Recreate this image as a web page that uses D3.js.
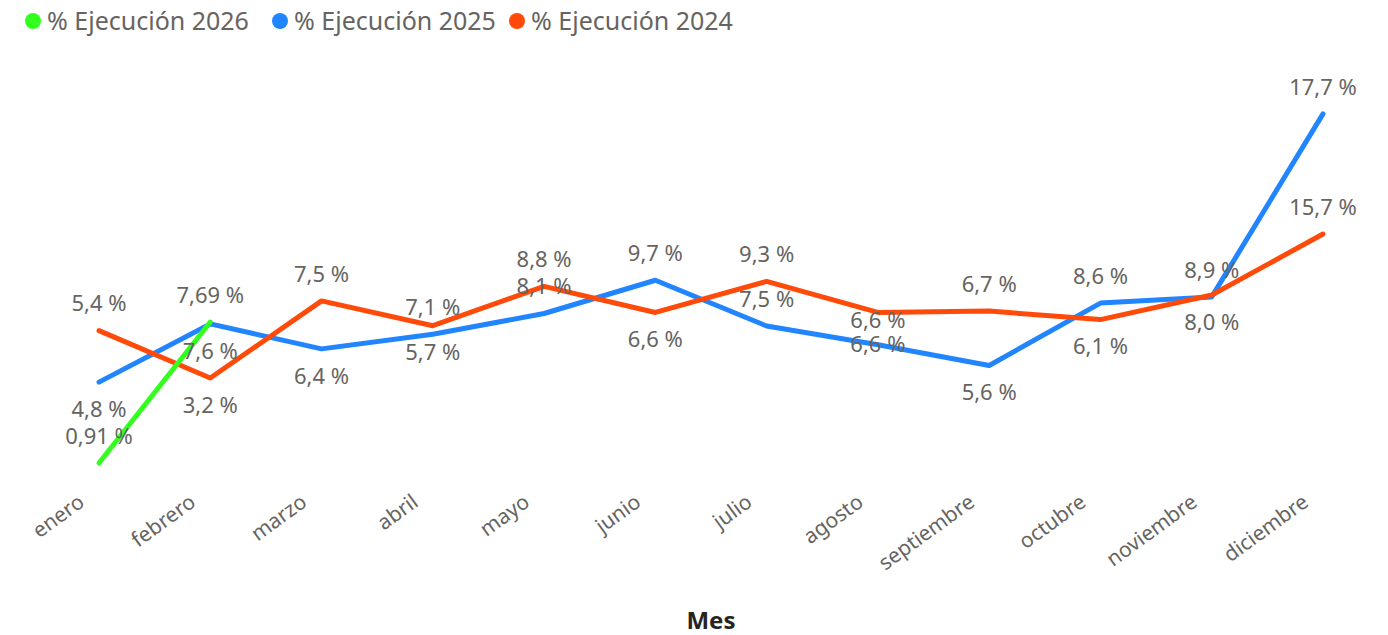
<!DOCTYPE html>
<meta charset="utf-8">
<body style="margin:0;background:#fff">
<svg width="1388" height="635"></svg>
<script src="https://cdnjs.cloudflare.com/ajax/libs/d3/7.8.5/d3.min.js"></script>
<script>

var meses = ["enero", "febrero", "marzo", "abril", "mayo", "junio", "julio", "agosto", "septiembre", "octubre", "noviembre", "diciembre"];
var ejec2026 = [0.91, 7.69];
var ejec2025 = [4.8, 7.6, 6.4, 7.1, 8.1, 9.7, 7.5, 6.6, 5.6, 8.6, 8.9, 17.7];
var ejec2024 = [5.4, 3.2, 7.5, 5.7, 8.8, 6.6, 9.3, 6.6, 6.7, 6.1, 8.0, 15.7];
var etiquetas2026 = ["0,91 %", "7,69 %"];

// where each data label sits: above (-1), below (1), on the line (0)
var pos2026 = [-1, -1];
var pos2025 = [1, 1, 1, -1, -1, -1, -1, 0, 1, -1, -1, -1];
var pos2024 = [-1, 1, -1, 1, -1, 1, -1, 0.3, -1, 1, 1, -1];

var svg = d3.select("svg");
var font = "'Segoe UI', 'Noto Sans', sans-serif";
var grey = "#666461";

var x = d3.scalePoint().domain(meses).range([99, 1323]);
var y = d3.scaleLinear().domain([0, 20]).range([482, 66]);       // 2025 / 2026
var y2 = d3.scaleLog().domain([3.2, 15.7]).range([378, 234]);    // 2024, log axis

var series = [
  {name: "% Ejecución 2024", color: "#FF4A0A", vals: ejec2024, sc: y2, pos: pos2024},
  {name: "% Ejecución 2025", color: "#2185FF", vals: ejec2025, sc: y, pos: pos2025},
  {name: "% Ejecución 2026", color: "#33FF1F", vals: ejec2026, sc: y, pos: pos2026, labels: etiquetas2026}
];

var fmt = function(v) { return d3.format(".1f")(v).replace(".", ",") + " %"; };

// x axis
var xa = svg.append("g").attr("transform", "translate(0,500)")
  .call(d3.axisBottom(x).tickSize(0).tickPadding(0));
xa.select(".domain").remove();
xa.selectAll("text")
  .attr("font-family", font).attr("font-size", 21).attr("fill", grey)
  .attr("text-anchor", "end")
  .attr("dy", "0.35em")
  .attr("transform", "translate(-18,-1) rotate(-36)");

svg.append("text")
  .attr("x", 711).attr("y", 629)
  .attr("text-anchor", "middle")
  .attr("font-family", font).attr("font-size", 24).attr("font-weight", "bold")
  .attr("fill", "#252423")
  .text("Mes");

// lines
var order = [series[1], series[0], series[2]];
order.forEach(function(s) {
  var line = d3.line()
    .x(function(d, i) { return x(meses[i]); })
    .y(function(d) { return s.sc(d); });
  svg.append("path")
    .attr("d", line(s.vals))
    .attr("fill", "none")
    .attr("stroke", s.color)
    .attr("stroke-width", 5)
    .attr("stroke-linecap", "round")
    .attr("stroke-linejoin", "round");
});

// data labels
series.forEach(function(s) {
  svg.append("g").selectAll("text").data(s.vals).join("text")
    .attr("x", function(d, i) { return x(meses[i]); })
    .attr("y", function(d, i) { return s.sc(d) + s.pos[i] * 27; })
    .attr("dy", "0.35em")
    .attr("text-anchor", "middle")
    .attr("font-family", font).attr("font-size", 22)
    .attr("fill", grey)
    .text(function(d, i) { return s.labels ? s.labels[i] : fmt(d); });
});

// legend
var legend = [series[2], series[1], series[0]];
var lx = [33, 280, 517];
legend.forEach(function(s, i) {
  svg.append("circle").attr("cx", lx[i]).attr("cy", 21).attr("r", 8).attr("fill", s.color);
  svg.append("text")
    .attr("x", lx[i] + 14).attr("y", 21).attr("dy", "0.35em")
    .attr("font-family", font).attr("font-size", 25)
    .attr("fill", grey)
    .text(s.name);
});

</script>
</body>
